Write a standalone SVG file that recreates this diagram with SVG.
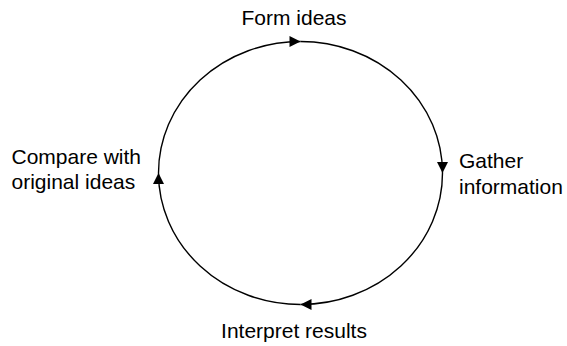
<svg xmlns="http://www.w3.org/2000/svg" width="567" height="346" viewBox="0 0 567 346">
<style>
.lbl{font-family:"Liberation Sans",Arial,sans-serif;font-size:21px;fill:#000}
.arc{fill:none;stroke:#000;stroke-width:1.4}
</style>
<defs>
<marker id="ah" markerUnits="userSpaceOnUse" markerWidth="12" markerHeight="12" viewBox="-12 -6 12 12" refX="0" refY="0" orient="auto">
<path d="M0,0 L-11,-5.5 L-11,5.5 Z" fill="#000"/>
</marker>
</defs>
<rect width="567" height="346" fill="#fff"/>
<g id="connectors">
<path class="arc" d="M158.5,173 A142,131.5 0 0 1 300.5,41.5" marker-end="url(#ah)"/>
<path class="arc" d="M300.5,41.5 A142,131.5 0 0 1 442.5,173" marker-end="url(#ah)"/>
<path class="arc" d="M442.5,173 A142,131.5 0 0 1 300.5,304.5" marker-end="url(#ah)"/>
<path class="arc" d="M300.5,304.5 A142,131.5 0 0 1 158.5,173" marker-end="url(#ah)"/>
</g>
<g id="form-ideas"><text class="lbl" x="294" y="25" text-anchor="middle">Form ideas</text></g>
<g id="gather-information"><text class="lbl" x="459" y="168">Gather</text><text class="lbl" x="459" y="194">information</text></g>
<g id="interpret-results"><text class="lbl" x="294" y="338" text-anchor="middle">Interpret results</text></g>
<g id="compare"><text class="lbl" x="11.5" y="163.5">Compare with</text><text class="lbl" x="11.5" y="189">original ideas</text></g>
</svg>
